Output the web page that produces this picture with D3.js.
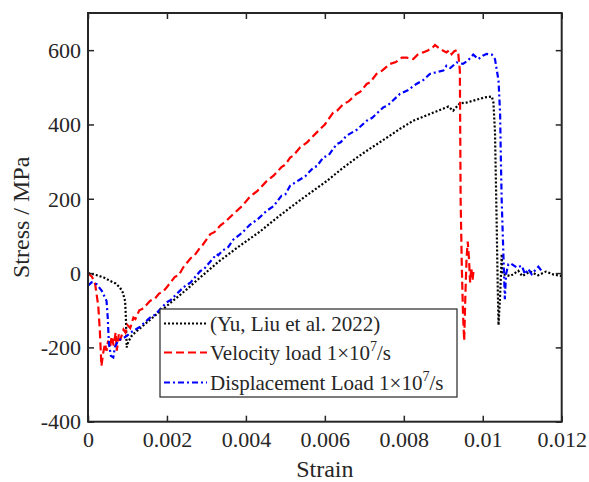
<!DOCTYPE html>
<html>
<head>
<meta charset="utf-8">
<script src="https://cdn.jsdelivr.net/npm/d3@7"></script>
<style>
  body { margin: 0; background: #fff; }
</style>
</head>
<body>
<svg id="chart" width="589" height="482"></svg>
<script>
// ---- data (strain, stress MPa) ----
const xTicks = [0, 0.002, 0.004, 0.006, 0.008, 0.01, 0.012];
const xTickLabels = ["0", "0.002", "0.004", "0.006", "0.008", "0.01", "0.012"];
const yTicks = [-400, -200, 0, 200, 400, 600];
const yTickLabels = ["-400", "-200", "0", "200", "400", "600"];

const yuData = [
  [0, 0], [0.0002, -5], [0.0004, -12], [0.00056, -21], [0.0007, -28], [0.00081, -39],
  [0.00088, -52], [0.00094, -75], [0.00096, -120], [0.00098, -200], [0.00102, -185],
  [0.0011, -170], [0.00115, -164], [0.0015, -132], [0.002, -88], [0.0025, -44],
  [0.00284, -12], [0.0033, 30], [0.0038, 70], [0.00436, 112], [0.0048, 150],
  [0.00512, 176], [0.00537, 196], [0.00605, 248], [0.00647, 284], [0.0068, 310],
  [0.00706, 329], [0.00765, 370], [0.0079, 388], [0.00824, 410], [0.00875, 432],
  [0.00913, 448], [0.00925, 437], [0.00942, 457], [0.00959, 459], [0.00976, 464],
  [0.01006, 473], [0.01023, 475], [0.01027, 459], [0.01031, 380], [0.01035, 150],
  [0.01038, -40], [0.0104, -140], [0.01044, -60], [0.01048, 51], [0.0105, -3],
  [0.0107, -8], [0.0109, 6], [0.011, -8], [0.0112, 4], [0.0114, -6], [0.0116, 4],
  [0.0118, -4], [0.012, -8]
];

const velocityData = [
  [0, 0], [0.0001, -10], [0.00018, -29], [0.00026, -88], [0.0003, -155], [0.00034, -250],
  [0.00038, -218], [0.00043, -190], [0.00047, -209], [0.00051, -182], [0.00056, -200],
  [0.0006, -170], [0.00065, -195], [0.0007, -160], [0.00073, -209], [0.00078, -165],
  [0.00081, -182], [0.0009, -152], [0.00095, -160], [0.001, -140], [0.00107, -148],
  [0.00115, -120], [0.0012, -124], [0.0013, -100], [0.0014, -95], [0.00157, -75],
  [0.0017, -68], [0.0018, -55], [0.0019, -50], [0.00199, -39], [0.0022, -10],
  [0.0023, -6], [0.00241, 15], [0.0026, 40], [0.0027, 48], [0.00284, 69], [0.0029, 75],
  [0.0031, 105], [0.0032, 110], [0.00335, 128], [0.0035, 140], [0.00368, 159],
  [0.0039, 180], [0.0041, 205], [0.0043, 222], [0.00453, 248], [0.0047, 262],
  [0.0049, 285], [0.0050, 292], [0.00512, 311], [0.0052, 316], [0.00537, 338],
  [0.00555, 352], [0.00579, 378], [0.006, 400], [0.00621, 432], [0.00632, 438],
  [0.00647, 455], [0.0066, 462], [0.0068, 482], [0.0069, 488], [0.00706, 509],
  [0.00715, 514], [0.00731, 536], [0.00745, 545], [0.00765, 563], [0.0078, 568],
  [0.00795, 580], [0.00807, 580], [0.00824, 576], [0.00835, 588], [0.00849, 594],
  [0.00862, 600], [0.00872, 606], [0.00879, 614], [0.00892, 603], [0.00908, 594],
  [0.00915, 600], [0.00921, 589], [0.00928, 597], [0.00934, 600],
  [0.00938, 590], [0.00942, 545], [0.00944, 195], [0.00947, 15], [0.0095, -110],
  [0.00953, -182], [0.00956, -60], [0.00959, 40], [0.00962, 85], [0.00965, 40],
  [0.00968, -25], [0.00971, 15], [0.00974, -20], [0.00977, 10]
];

const displacementData = [
  [0, -34], [0.00009, -25], [0.00022, -30], [0.00035, -48], [0.00047, -75],
  [0.0005, -120], [0.00053, -190], [0.00058, -223], [0.00064, -227], [0.00068, -200],
  [0.00076, -182], [0.00093, -173], [0.00115, -155], [0.0013, -146], [0.00157, -120],
  [0.0017, -112], [0.00199, -79], [0.0021, -72], [0.00241, -39], [0.0026, -25],
  [0.00284, 5], [0.00295, 12], [0.00305, 25], [0.00326, 51], [0.0033, 48], [0.0034, 60],
  [0.00355, 70], [0.00368, 90], [0.0039, 108], [0.0041, 130], [0.0043, 145],
  [0.00453, 168], [0.0047, 180], [0.0049, 208], [0.005, 212], [0.00512, 235],
  [0.00537, 252], [0.0055, 260], [0.00571, 284], [0.0058, 288], [0.00596, 311],
  [0.0061, 318], [0.0063, 347], [0.0064, 352], [0.00655, 370], [0.0068, 385],
  [0.00706, 410], [0.0072, 418], [0.00748, 446], [0.0076, 452], [0.0079, 482],
  [0.0081, 492], [0.00832, 509], [0.0085, 520], [0.00866, 536], [0.0088, 540],
  [0.009, 545], [0.00908, 558], [0.00918, 552], [0.00934, 567], [0.0095, 563],
  [0.00962, 572], [0.00976, 588], [0.00989, 576], [0.01, 585], [0.0101, 590],
  [0.01023, 588], [0.01031, 576], [0.0104, 518],
  [0.01044, 428], [0.01046, 300], [0.01048, 195], [0.01052, 60], [0.01056, -70],
  [0.01059, -3], [0.01065, 24], [0.01071, 26], [0.01086, 15], [0.01099, 20],
  [0.01107, -3], [0.01115, 11], [0.01124, -3], [0.01141, 17], [0.01149, 6]
];

const seriesNames = ["(Yu, Liu et al. 2022)", "Velocity load 1×10", "Displacement Load 1×10"];
const seriesColors = ["#000000", "#ff0000", "#0000ff"];
const seriesDashes = ["2,2", "8,4", "6,3,2,3"];
const seriesData = [yuData, velocityData, displacementData];

// ---- layout ----
const FONT = "'Liberation Serif', 'Times New Roman', Times, 'DejaVu Serif', serif";
const svg = d3.select("#chart");
const L = 88, T = 13, R = 561.7, B = 421.7;
const x = d3.scaleLinear().domain([0, 0.012]).range([L, R]);
const y = d3.scaleLinear().domain([-400, 700]).range([B, T]);
const ink = "#262626";

svg.append("defs").append("clipPath").attr("id", "clip")
  .append("rect").attr("x", L).attr("y", T).attr("width", R - L).attr("height", B - T);

const line = d3.line().x(d => x(d[0])).y(d => y(d[1]));

const lines = svg.append("g").attr("clip-path", "url(#clip)");
seriesData.forEach((data, i) => {
  lines.append("path").datum(data)
    .attr("d", line)
    .attr("fill", "none")
    .attr("stroke", seriesColors[i])
    .attr("stroke-width", 2.2)
    .attr("stroke-dasharray", seriesDashes[i]);
});

// ---- axes (ticks inward, box) ----
const tickLen = 6;
const axB = d3.axisBottom(x).tickValues(xTicks).tickSize(-tickLen).tickPadding(10)
  .tickFormat((d, i) => xTickLabels[i]);
const axT = d3.axisTop(x).tickValues(xTicks).tickSize(-tickLen).tickFormat("");
const axL = d3.axisLeft(y).tickValues(yTicks).tickSize(-tickLen).tickPadding(7)
  .tickFormat((d, i) => yTickLabels[i]);
const axR = d3.axisRight(y).tickValues(yTicks).tickSize(-tickLen).tickFormat("");

function style(g) {
  g.attr("font-family", FONT).attr("font-size", 22);
  g.select(".domain").remove();
  g.selectAll(".tick line").attr("stroke", ink).attr("stroke-width", 1.5);
  g.selectAll(".tick text").attr("fill", ink).attr("font-family", FONT).attr("font-size", 22);
}
svg.append("g").attr("transform", `translate(0,${B})`).call(axB).call(style)
  .selectAll(".tick text").attr("dy", "0.71em").attr("y", 10);
svg.append("g").attr("transform", `translate(0,${T})`).call(axT).call(style);
svg.append("g").attr("transform", `translate(${L},0)`).call(axL).call(style)
  .selectAll(".tick text").attr("dy", "0.33em");
svg.append("g").attr("transform", `translate(${R},0)`).call(axR).call(style);

svg.append("rect").attr("x", L).attr("y", T).attr("width", R - L).attr("height", B - T)
  .attr("fill", "none").attr("stroke", ink).attr("stroke-width", 2);

// ---- axis labels ----
svg.append("text").attr("x", (L + R) / 2).attr("y", 477).attr("text-anchor", "middle")
  .attr("font-family", FONT).attr("font-size", 24).attr("fill", ink).text("Strain");
svg.append("text").attr("transform", `translate(29,${(T + B) / 2}) rotate(-90)`)
  .attr("text-anchor", "middle").attr("font-family", FONT).attr("font-size", 24)
  .attr("fill", ink).text("Stress / MPa");

// ---- legend ----
const lg = svg.append("g");
lg.append("rect").attr("x", 160).attr("y", 309).attr("width", 297).attr("height", 88)
  .attr("fill", "#fff").attr("stroke", ink).attr("stroke-width", 1.2);
const rowBase = [331, 360, 390];
seriesNames.forEach((name, i) => {
  const by = rowBase[i];
  lg.append("line").attr("x1", 164).attr("x2", 207).attr("y1", by - 7.5).attr("y2", by - 7.5)
    .attr("stroke", seriesColors[i]).attr("stroke-width", 2)
    .attr("stroke-dasharray", seriesDashes[i]);
  const t = lg.append("text").attr("x", 210).attr("y", by)
    .attr("font-family", FONT).attr("font-size", 21).attr("fill", ink);
  t.append("tspan").text(name);
  if (i > 0) {
    t.append("tspan").attr("dy", -9).attr("font-size", 14).text("7");
    t.append("tspan").attr("dy", 9).text("/s");
  }
});
</script>
</body>
</html>
